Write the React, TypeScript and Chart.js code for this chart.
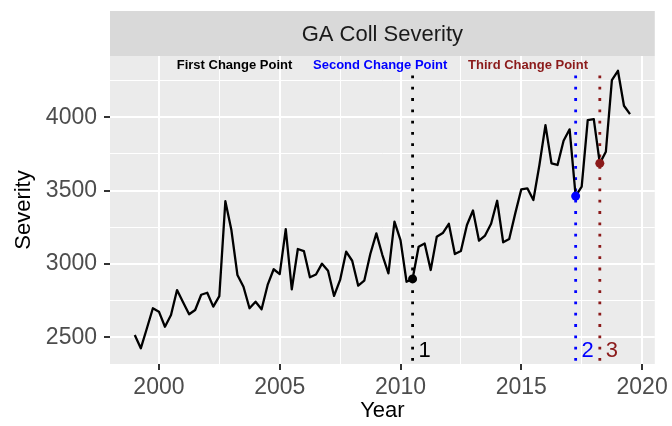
import React, { useEffect, useRef } from "react";
import { Chart, registerables } from "chart.js";
Chart.register(...registerables);

const years = [
  1999.0, 1999.25, 1999.5, 1999.75, 2000.0, 2000.25, 2000.5, 2000.75,
  2001.0, 2001.25, 2001.5, 2001.75, 2002.0, 2002.25, 2002.5, 2002.75,
  2003.0, 2003.25, 2003.5, 2003.75, 2004.0, 2004.25, 2004.5, 2004.75,
  2005.0, 2005.25, 2005.5, 2005.75, 2006.0, 2006.25, 2006.5, 2006.75,
  2007.0, 2007.25, 2007.5, 2007.75, 2008.0, 2008.25, 2008.5, 2008.75,
  2009.0, 2009.25, 2009.5, 2009.75, 2010.0, 2010.25, 2010.5, 2010.75,
  2011.0, 2011.25, 2011.5, 2011.75, 2012.0, 2012.25, 2012.5, 2012.75,
  2013.0, 2013.25, 2013.5, 2013.75, 2014.0, 2014.25, 2014.5, 2014.75,
  2015.0, 2015.25, 2015.5, 2015.75, 2016.0, 2016.25, 2016.5, 2016.75,
  2017.0, 2017.25, 2017.5, 2017.75, 2018.0, 2018.25, 2018.5, 2018.75,
  2019.0, 2019.25, 2019.5,
];

const severity = [
  2516, 2425, 2560, 2698, 2675, 2572, 2652, 2822,
  2739, 2657, 2686, 2790, 2804, 2709, 2781, 3428,
  3231, 2925, 2845, 2698, 2743, 2691, 2857, 2964,
  2931, 3238, 2827, 3102, 3088, 2909, 2928, 3002,
  2954, 2782, 2891, 3084, 3022, 2852, 2886, 3068,
  3209, 3061, 2936, 3288, 3163, 2879, 2898, 3118,
  3140, 2959, 3185, 3211, 3274, 3068, 3088, 3266,
  3365, 3159, 3194, 3274, 3431, 3148, 3170, 3345,
  3509, 3516, 3436, 3675, 3947, 3686, 3675, 3840,
  3918, 3463, 3527, 3981, 3988, 3686, 3765, 4254,
  4317, 4079, 4022,
];

const cpYears = [2010.5, 2017.25, 2018.25];
const cpValues = [2898, 3463, 3686];
const cpNumbers = ["1", "2", "3"];
const cpColors = ["#000000", "#0000FF", "#8B1A1A"];
const cpTitles = ["First Change Point", "Second Change Point", "Third Change Point"];
const cpTitleYears = [2003.13, 2009.16, 2015.28];
const cpTitleValue = 4356;
const cpNumberValue = 2410;
const cpNumberOffset = 0.5;
const cpLineTop = 4285;

const xMajor = [2000, 2005, 2010, 2015, 2020];
const xMinor = [2002.5, 2007.5, 2012.5, 2017.5];
const yMajor = [2500, 3000, 3500, 4000];
const yMinor = [2750, 3250, 3750, 4250];

const X_MIN = 1997.975;
const X_MAX = 2020.525;
const Y_MIN = 2318;
const Y_MAX = 4418;

const FONT = "'Liberation Sans', Arial, Helvetica, sans-serif";
const STRIP_TOP = 11;

export default function App() {
  const ref = useRef<HTMLCanvasElement | null>(null);

  useEffect(() => {
    const canvas = ref.current;
    if (!canvas) return;

    const panelPlugin = {
      id: "panelPlugin",
      beforeDraw(chart: any) {
        const { ctx, chartArea } = chart;
        const { left, right, top, bottom } = chartArea;
        ctx.save();
        ctx.fillStyle = "#FFFFFF";
        ctx.fillRect(0, 0, chart.width, chart.height);
        ctx.fillStyle = "#EBEBEB";
        ctx.fillRect(left, top, right - left, bottom - top);
        // strip
        ctx.fillStyle = "#D9D9D9";
        ctx.fillRect(left, STRIP_TOP, right - left, top - STRIP_TOP);
        ctx.fillStyle = "#1A1A1A";
        ctx.font = `22px ${FONT}`;
        ctx.textAlign = "center";
        ctx.textBaseline = "middle";
        ctx.fillText("GA Coll Severity", (left + right) / 2, (STRIP_TOP + top) / 2 + 1);
        ctx.restore();
      },
      afterDatasetsDraw(chart: any) {
        const { ctx, chartArea } = chart;
        const xs = chart.scales.x;
        const ys = chart.scales.y;
        ctx.save();
        // change point titles
        ctx.font = `bold 13px ${FONT}`;
        ctx.textAlign = "center";
        ctx.textBaseline = "middle";
        cpTitles.forEach((t, i) => {
          ctx.fillStyle = cpColors[i];
          ctx.fillText(t, xs.getPixelForValue(cpTitleYears[i]), ys.getPixelForValue(cpTitleValue));
        });
        // change point numbers
        ctx.font = `22px ${FONT}`;
        cpNumbers.forEach((t, i) => {
          ctx.fillStyle = cpColors[i];
          ctx.fillText(
            t,
            xs.getPixelForValue(cpYears[i] + cpNumberOffset),
            ys.getPixelForValue(cpNumberValue)
          );
        });
        ctx.restore();
      },
      afterDraw(chart: any) {
        const { ctx, chartArea } = chart;
        ctx.save();
        ctx.fillStyle = "#000000";
        ctx.font = `22px ${FONT}`;
        ctx.textAlign = "center";
        ctx.textBaseline = "middle";
        ctx.fillText("Year", (chartArea.left + chartArea.right) / 2, 411);
        ctx.translate(24, (chartArea.top + chartArea.bottom) / 2);
        ctx.rotate(-Math.PI / 2);
        ctx.fillText("Severity", 0, 0);
        ctx.restore();
      },
    };

    const lineData = years.map((x, i) => ({ x, y: severity[i] }));

    const vlineSets = cpYears.map((x, i) => ({
      type: "line",
      data: [
        { x, y: cpLineTop },
        { x, y: Y_MIN },
      ],
      borderColor: cpColors[i],
      borderWidth: 2.8,
      borderDash: [2.8, 8.5],
      borderCapStyle: "butt",
      pointRadius: 0,
      fill: false,
      order: 2,
    }));

    const isMajorX = (v: number) => xMajor.includes(v);
    const isMajorY = (v: number) => yMajor.includes(v);

    const chart = new Chart(canvas, {
      type: "line",
      data: {
        datasets: [
          ...vlineSets,
          {
            type: "line",
            data: lineData,
            borderColor: "#000000",
            borderWidth: 2.3,
            pointRadius: 0,
            tension: 0,
            fill: false,
            borderJoinStyle: "round",
            order: 1,
          },
          {
            type: "scatter",
            data: cpYears.map((x, i) => ({ x, y: cpValues[i] })),
            pointRadius: 4.5,
            pointBackgroundColor: cpColors,
            pointBorderColor: cpColors,
            pointBorderWidth: 0,
            order: 0,
          },
        ] as any,
      },
      options: {
        animation: false,
        responsive: false,
        devicePixelRatio: 1,
        layout: { padding: { top: 56, right: 14, left: 0, bottom: 0 } },
        plugins: {
          legend: { display: false },
          tooltip: { enabled: false },
          title: { display: false },
        },
        scales: {
          x: {
            type: "linear",
            min: X_MIN,
            max: X_MAX,
            afterBuildTicks: (scale: any) => {
              scale.ticks = [...xMajor, ...xMinor].sort((a, b) => a - b).map((v) => ({ value: v }));
            },
            afterFit: (scale: any) => {
              scale.height = 62;
            },
            border: { display: false },
            grid: {
              color: "#FFFFFF",
              lineWidth: (c: any) => (c.tick && isMajorX(c.tick.value) ? 2 : 1),
              tickColor: (c: any) => (c.tick && isMajorX(c.tick.value) ? "#333333" : "rgba(0,0,0,0)"),
              tickLength: 6,
              tickWidth: 2,
              drawTicks: true,
            },
            ticks: {
              autoSkip: false,
              maxRotation: 0,
              padding: 4,
              color: "#4D4D4D",
              font: { family: FONT, size: 23 },
              callback: (v: any) => (isMajorX(Number(v)) ? String(v) : ""),
            },
          },
          y: {
            type: "linear",
            min: Y_MIN,
            max: Y_MAX,
            afterBuildTicks: (scale: any) => {
              scale.ticks = [...yMajor, ...yMinor].sort((a, b) => a - b).map((v) => ({ value: v }));
            },
            afterFit: (scale: any) => {
              scale.width = 110;
            },
            border: { display: false },
            grid: {
              color: "#FFFFFF",
              lineWidth: (c: any) => (c.tick && isMajorY(c.tick.value) ? 2 : 1),
              tickColor: (c: any) => (c.tick && isMajorY(c.tick.value) ? "#333333" : "rgba(0,0,0,0)"),
              tickLength: 6,
              tickWidth: 2,
            },
            ticks: {
              autoSkip: false,
              padding: 7,
              color: "#4D4D4D",
              font: { family: FONT, size: 23 },
              callback: (v: any) => (isMajorY(Number(v)) ? String(v) : ""),
            },
          },
        },
      } as any,
      plugins: [panelPlugin],
    });

    return () => chart.destroy();
  }, []);

  return (
    <div style={{ position: "absolute", left: 0, top: 0, width: 672, height: 426 }}>
      <canvas ref={ref} width={672} height={426} style={{ display: "block", width: 672, height: 426 }} />
    </div>
  );
}
